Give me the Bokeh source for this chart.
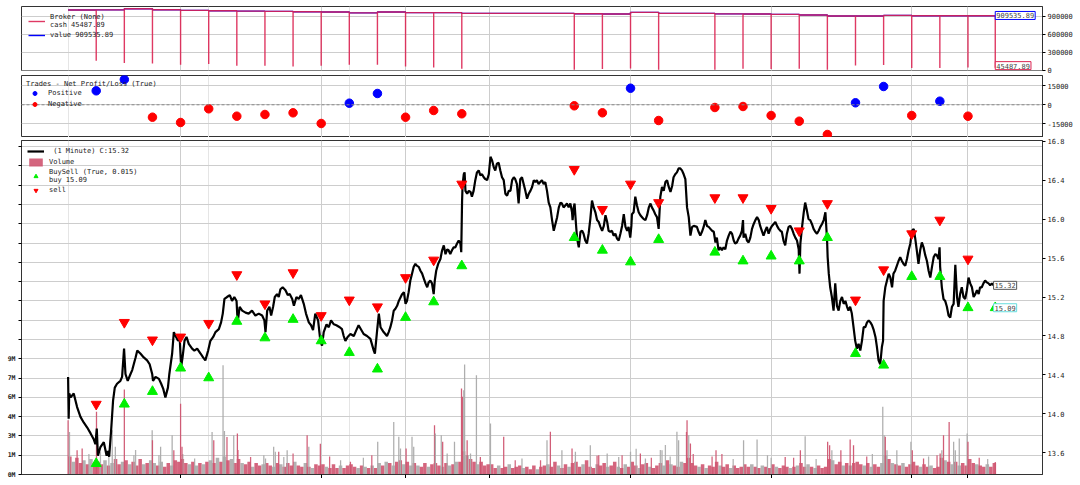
from bokeh.plotting import figure
from bokeh.models import (Range1d, LinearAxis, FixedTicker, Grid, Legend, LegendItem,
                          Label, Span, PrintfTickFormatter)
from bokeh.layouts import column
from bokeh.embed import file_html
from bokeh.resources import INLINE

FONT = "DejaVu Sans Mono"
FS = "7px"

# ---------------- data ----------------
trade_days = [1, 2, 3, 4, 5, 6, 7, 8, 9, 10, 11, 12, 13, 14, 18, 19, 20, 21,
              23, 24, 25, 26, 27, 28, 29, 30, 31, 32]
trade_pnl = [11050, 19975, -9790, -13975, -3160, -9000, -7660, -6320, -14760, 1260,
             8920, -9790, -4500, -7100, -790, -6320, 13100, -12400,
             -2130, -1340, -8450, -12950, -23450, 1580, 14450, -8450, 2840, -9000]
sell_price = [14.10, 14.94, 14.76, 14.79, 14.93, 15.43, 15.13, 15.45, 15.01, 15.17,
              15.10, 15.40, 15.58, 16.36, 16.51, 16.10, 16.36, 16.17,
              16.22, 16.22, 16.11, 15.88, 16.16, 15.17, 15.48, 15.85, 15.99, 15.59]
buy_price = [13.49, 14.10, 14.23, 14.47, 14.37, 14.95, 14.78, 14.97, 14.75, 14.63,
             14.46, 14.99, 15.15, 15.52, 15.81, 15.68, 15.56, 15.79,
             15.66, 15.57, 15.62, 15.57, 15.81, 14.62, 14.50, 15.41, 15.41, 15.09]
cash_low = [158800, 121000, 114600, 93300, 104700, 77000, 77000, 65500, 77000, 93300,
            93300, 65500, 49000, 27800, 11500, 23000, 32700, 11500,
            11500, 27800, 23000, 27800, 11500, 81800, 88400, 39000, 39000, 49000]
value_after = [1002000, 1021000, 1005000, 993500, 988600, 982000, 977000, 972000, 965700, 952000,
               965700, 956000, 956000, 944000, 939000, 933000, 960700, 944000,
               936000, 933000, 928000, 916500, 900000, 900000, 911600, 906000, 906000, 906000]
start_value = 1000000
final_day = 32.97
final_cash = 45487.89
final_value = 909535.89
last_buy = 15.09
last_close = 15.32

price_day = [
    0.00, 0.02, 0.04, 0.09, 0.20, 0.26, 0.32, 0.44, 0.56, 0.68, 0.80, 0.91, 0.97, 1.02, 1.06,
    1.15, 1.27, 1.37, 1.41, 1.46, 1.53, 1.60, 1.66, 1.74, 1.86, 1.92, 1.99, 2.04, 2.12, 2.22,
    2.28, 2.40, 2.46, 2.57, 2.69, 2.81, 2.90, 2.99, 3.02, 3.11, 3.23, 3.31, 3.38, 3.46, 3.55,
    3.60, 3.70, 3.76, 3.84, 3.91, 3.97, 4.02, 4.07, 4.14, 4.21, 4.29, 4.41, 4.49, 4.59, 4.71,
    4.80, 4.88, 4.98, 5.06, 5.16, 5.24, 5.36, 5.44, 5.50, 5.56, 5.65, 5.75, 5.83, 5.91, 5.99,
    6.03, 6.10, 6.19, 6.31, 6.42, 6.54, 6.66, 6.78, 6.90, 6.98, 7.02, 7.08, 7.16, 7.22, 7.29,
    7.35, 7.43, 7.49, 7.55, 7.63, 7.73, 7.81, 7.88, 7.97, 8.03, 8.12, 8.20, 8.28, 8.38, 8.46,
    8.56, 8.64, 8.71, 8.79, 8.89, 8.97, 9.03, 9.09, 9.19, 9.27, 9.35, 9.45, 9.54, 9.66, 9.74,
    9.80, 9.86, 9.94, 10.04, 10.16, 10.25, 10.33, 10.51, 10.63, 10.75, 10.87, 10.91, 10.99, 11.05, 11.11,
    11.22, 11.34, 11.40, 11.46, 11.52, 11.58, 11.64, 11.70, 11.76, 11.88, 11.94, 12.00, 12.05, 12.11, 12.17,
    12.23, 12.29, 12.35, 12.41, 12.47, 12.53, 12.59, 12.65, 12.71, 12.77, 12.82, 12.88, 12.94, 13.00, 13.04,
    13.09, 13.16, 13.24, 13.30, 13.36, 13.42, 13.48, 13.53, 13.59, 13.65, 13.71, 13.77, 13.83, 13.89, 13.95,
    13.98, 14.01, 14.03, 14.07, 14.10, 14.13, 14.19, 14.25, 14.31, 14.36, 14.42, 14.48, 14.54, 14.60, 14.66,
    14.72, 14.78, 14.84, 14.90, 14.96, 15.02, 15.08, 15.14, 15.19, 15.25, 15.31, 15.37, 15.43, 15.49, 15.55,
    15.61, 15.67, 15.73, 15.79, 15.85, 15.90, 15.96, 16.02, 16.08, 16.14, 16.20, 16.26, 16.32, 16.38, 16.44,
    16.50, 16.56, 16.62, 16.67, 16.73, 16.79, 16.85, 16.91, 16.97, 17.03, 17.09, 17.15, 17.21, 17.27, 17.33,
    17.39, 17.45, 17.51, 17.56, 17.62, 17.68, 17.74, 17.80, 17.86, 17.92, 17.94, 17.98, 18.01, 18.06, 18.10,
    18.16, 18.22, 18.28, 18.33, 18.39, 18.45, 18.51, 18.57, 18.63, 18.69, 18.75, 18.81, 18.87, 18.93, 18.99,
    19.05, 19.11, 19.17, 19.22, 19.28, 19.34, 19.40, 19.46, 19.52, 19.58, 19.64, 19.70, 19.76, 19.82, 19.88,
    19.93, 19.99, 20.03, 20.05, 20.11, 20.17, 20.23, 20.29, 20.35, 20.41, 20.47, 20.53, 20.59, 20.65, 20.71,
    20.76, 20.82, 20.88, 20.94, 21.00, 21.04, 21.06, 21.12, 21.18, 21.24, 21.30, 21.36, 21.42, 21.48, 21.53,
    21.59, 21.65, 21.71, 21.77, 21.83, 21.89, 21.95, 22.01, 22.07, 22.13, 22.19, 22.25, 22.36, 22.42, 22.48,
    22.54, 22.60, 22.66, 22.72, 22.78, 22.84, 22.90, 22.96, 23.02, 23.07, 23.13, 23.19, 23.25, 23.31, 23.37,
    23.43, 23.49, 23.55, 23.61, 23.67, 23.72, 23.78, 23.84, 23.90, 23.96, 24.00, 24.02, 24.08, 24.14, 24.20,
    24.26, 24.32, 24.38, 24.44, 24.50, 24.56, 24.61, 24.67, 24.73, 24.79, 24.85, 24.91, 24.97, 25.03, 25.09,
    25.15, 25.21, 25.27, 25.33, 25.38, 25.44, 25.50, 25.56, 25.62, 25.68, 25.74, 25.80, 25.86, 25.92, 25.98,
    26.01, 26.04, 26.10, 26.16, 26.21, 26.27, 26.33, 26.39, 26.45, 26.51, 26.57, 26.63, 26.69, 26.75, 26.81,
    26.87, 26.93, 26.99, 27.01, 27.05, 27.10, 27.16, 27.22, 27.28, 27.34, 27.40, 27.46, 27.52, 27.58, 27.64,
    27.70, 27.75, 27.81, 27.87, 27.93, 27.99, 28.05, 28.11, 28.17, 28.23, 28.29, 28.35, 28.41, 28.47, 28.53,
    28.59, 28.65, 28.71, 28.76, 28.82, 28.88, 28.94, 28.98, 29.00, 29.06, 29.12, 29.18, 29.24, 29.30, 29.35,
    29.41, 29.47, 29.53, 29.59, 29.65, 29.71, 29.77, 29.83, 29.89, 29.95, 30.01, 30.07, 30.12, 30.18, 30.24,
    30.30, 30.36, 30.42, 30.48, 30.54, 30.60, 30.66, 30.72, 30.78, 30.84, 30.89, 30.95, 30.99, 31.01, 31.07,
    31.13, 31.19, 31.25, 31.31, 31.37, 31.43, 31.49, 31.55, 31.61, 31.66, 31.72, 31.78, 31.84, 31.90, 31.96,
    32.02, 32.08, 32.14, 32.20, 32.26, 32.32, 32.38, 32.43, 32.49, 32.55, 32.61, 32.67, 32.73, 32.79, 32.85,
    32.91]
price_close = [
    14.38, 13.95, 14.21, 14.17, 14.21, 14.14, 14.07, 13.97, 13.91, 13.86, 13.80, 13.74, 13.69, 13.85, 13.57,
    13.66, 13.71, 13.57, 13.62, 13.56, 13.83, 14.14, 14.27, 14.31, 14.34, 14.38, 14.67, 14.41, 14.34, 14.41,
    14.45, 14.58, 14.65, 14.62, 14.58, 14.55, 14.51, 14.41, 14.34, 14.38, 14.36, 14.31, 14.26, 14.17, 14.27,
    14.41, 14.62, 14.84, 14.79, 14.75, 14.77, 14.48, 14.58, 14.75, 14.79, 14.72, 14.67, 14.65, 14.67, 14.62,
    14.58, 14.55, 14.65, 14.75, 14.79, 14.84, 14.87, 14.94, 15.03, 15.18, 15.20, 15.22, 15.16, 15.20, 15.16,
    14.94, 15.10, 15.06, 15.04, 15.03, 15.06, 15.01, 15.03, 15.01, 14.96, 14.84, 15.06, 15.10, 15.01, 15.10,
    15.20, 15.23, 15.20, 15.28, 15.30, 15.27, 15.22, 15.23, 15.18, 15.11, 15.20, 15.18, 15.22, 15.13, 15.03,
    14.94, 14.91, 14.86, 15.03, 14.96, 14.75, 14.70, 14.84, 14.92, 14.89, 14.96, 14.92, 14.91, 14.89, 14.87,
    14.80, 14.75, 14.79, 14.82, 14.80, 14.86, 14.91, 14.82, 14.80, 14.77, 14.65, 14.62, 14.86, 15.03, 14.89,
    14.84, 14.80, 14.84, 14.89, 14.96, 15.06, 15.08, 15.11, 15.16, 15.23, 15.25, 15.13, 15.16, 15.25, 15.37,
    15.44, 15.51, 15.54, 15.52, 15.51, 15.47, 15.44, 15.39, 15.34, 15.30, 15.35, 15.37, 15.34, 15.23, 15.37,
    15.47, 15.54, 15.59, 15.68, 15.73, 15.64, 15.69, 15.68, 15.64, 15.68, 15.71, 15.71, 15.75, 15.78, 15.75,
    15.66, 16.19, 16.36, 16.46, 16.48, 16.29, 16.26, 16.29, 16.28, 16.23, 16.29, 16.40, 16.48, 16.50, 16.45,
    16.46, 16.43, 16.41, 16.40, 16.46, 16.64, 16.60, 16.53, 16.50, 16.57, 16.58, 16.50, 16.43, 16.40, 16.26,
    16.24, 16.29, 16.29, 16.40, 16.43, 16.41, 16.36, 16.16, 16.41, 16.43, 16.36, 16.29, 16.21, 16.26, 16.29,
    16.33, 16.40, 16.38, 16.40, 16.36, 16.38, 16.40, 16.36, 16.38, 16.29, 16.17, 16.12, 15.99, 15.88, 15.95,
    16.02, 16.12, 16.17, 16.16, 16.12, 16.14, 16.16, 16.12, 16.16, 16.07, 15.99, 16.12, 16.16, 15.95, 15.80,
    15.71, 15.87, 15.88, 15.85, 15.78, 15.75, 15.85, 16.00, 16.19, 16.12, 16.07, 15.99, 15.97, 15.92, 15.88,
    15.93, 16.04, 15.97, 15.88, 15.87, 15.88, 15.83, 15.85, 15.80, 15.78, 15.85, 15.93, 16.05, 15.92, 15.88,
    15.92, 15.81, 15.93, 16.05, 16.07, 16.23, 16.14, 16.07, 16.04, 16.02, 16.00, 15.99, 16.04, 16.12, 16.16,
    16.12, 16.09, 16.05, 16.02, 15.90, 16.12, 16.23, 16.33, 16.29, 16.38, 16.40, 16.33, 16.28, 16.34, 16.43,
    16.46, 16.48, 16.52, 16.52, 16.50, 16.46, 16.41, 16.12, 16.02, 15.83, 15.92, 15.93, 15.92, 15.87, 15.83,
    15.87, 15.92, 15.99, 15.93, 15.92, 15.90, 15.88, 15.87, 15.76, 15.81, 15.68, 15.71, 15.68, 15.71, 15.69,
    15.78, 15.83, 15.87, 15.85, 15.78, 15.75, 15.76, 15.80, 15.83, 15.88, 15.99, 15.81, 15.85, 15.78, 15.76,
    15.81, 15.90, 15.95, 15.99, 16.02, 15.99, 15.93, 15.88, 15.83, 15.88, 15.92, 15.85, 15.90, 15.93, 15.95,
    15.97, 15.93, 15.90, 15.88, 15.87, 15.78, 15.73, 15.85, 15.92, 15.93, 15.90, 15.85, 15.81, 15.78, 15.69,
    15.44, 15.75, 15.92, 16.07, 16.17, 16.09, 16.00, 15.99, 15.95, 15.90, 15.87, 15.85, 15.88, 15.92, 15.95,
    15.99, 16.07, 15.78, 15.61, 15.44, 15.30, 15.20, 15.06, 15.34, 15.11, 15.06, 15.16, 15.20, 15.13, 15.16,
    15.10, 15.06, 15.10, 15.03, 14.89, 14.75, 14.67, 14.72, 14.65, 14.75, 14.89, 14.89, 14.94, 14.96, 14.94,
    14.91, 14.86, 14.79, 14.69, 14.55, 14.51, 14.69, 14.75, 15.16, 15.30, 15.37, 15.44, 15.40, 15.30, 15.44,
    15.47, 15.52, 15.57, 15.61, 15.57, 15.54, 15.52, 15.59, 15.68, 15.75, 15.88, 15.90, 15.81, 15.68, 15.54,
    15.68, 15.76, 15.71, 15.63, 15.57, 15.47, 15.40, 15.51, 15.61, 15.64, 15.63, 15.59, 15.71, 15.51, 15.30,
    15.18, 15.16, 15.10, 15.01, 14.99, 15.10, 15.13, 15.53, 15.20, 15.10, 15.23, 15.30, 15.20, 15.18, 15.27,
    15.40, 15.34, 15.30, 15.20, 15.23, 15.27, 15.23, 15.30, 15.30, 15.34, 15.37, 15.35, 15.34, 15.32, 15.34,
    15.32]

# volume (millions): dense base, one value per 1/8 day, plus taller single bars
vol_base = [
    [1.4, 1.0, 1.3, 0.9, 1.1, 0.8, 1.2, 0.9], [1.0, 0.8, 1.1, 0.7, 0.9, 1.2, 0.8, 1.0],
    [1.1, 0.8, 1.0, 0.7, 1.2, 0.8, 0.9, 1.1], [0.9, 0.7, 1.0, 0.6, 0.9, 0.7, 1.1, 1.0],
    [1.2, 0.9, 0.8, 1.0, 0.7, 0.9, 0.8, 1.0], [1.1, 0.9, 1.3, 1.0, 1.4, 1.1, 1.2, 0.9],
    [1.2, 0.9, 0.8, 1.0, 0.6, 0.9, 0.7, 0.8], [0.9, 0.7, 0.6, 0.9, 0.8, 0.6, 0.9, 0.7],
    [1.0, 0.7, 0.6, 0.9, 0.6, 0.5, 0.8, 0.7], [0.8, 0.6, 0.5, 0.8, 0.5, 0.7, 0.5, 0.7],
    [0.8, 0.6, 0.5, 0.7, 0.6, 0.5, 0.7, 0.5], [0.9, 0.7, 1.0, 0.9, 0.7, 1.0, 1.1, 0.8],
    [1.0, 0.7, 0.9, 0.7, 0.6, 0.9, 0.6, 0.8], [0.9, 0.7, 0.6, 0.9, 0.7, 0.8, 1.0, 1.0],
    [1.8, 1.5, 1.2, 1.0, 0.8, 1.0, 0.7, 0.8], [0.8, 0.5, 0.7, 0.5, 0.6, 0.8, 0.5, 0.6],
    [0.7, 0.5, 0.6, 0.4, 0.7, 0.4, 0.6, 0.7], [0.8, 0.6, 1.0, 0.7, 0.5, 0.8, 0.6, 0.9],
    [1.0, 0.6, 0.8, 1.1, 0.6, 0.5, 0.8, 0.7], [0.9, 0.6, 0.7, 1.0, 0.6, 0.5, 0.8, 0.6],
    [1.0, 0.7, 0.5, 0.8, 0.9, 0.6, 0.5, 0.7], [0.9, 0.7, 1.1, 0.8, 0.7, 0.6, 1.0, 0.9],
    [1.3, 0.9, 0.7, 0.6, 0.8, 0.5, 0.7, 0.6], [1.0, 0.7, 0.6, 0.8, 0.5, 0.7, 0.5, 0.6],
    [0.8, 0.6, 0.8, 0.6, 0.5, 0.7, 0.6, 0.5], [0.8, 0.6, 0.5, 0.7, 0.6, 0.5, 0.6, 0.7],
    [0.9, 0.6, 0.8, 0.6, 0.5, 0.7, 0.5, 0.6], [1.2, 1.1, 0.8, 1.0, 0.7, 0.9, 0.7, 0.9],
    [1.0, 0.8, 0.7, 0.9, 0.6, 0.8, 0.6, 0.9], [1.5, 1.2, 0.9, 0.8, 0.7, 0.9, 0.6, 0.8],
    [1.0, 0.7, 0.6, 0.8, 0.6, 0.7, 0.5, 0.6], [1.3, 1.1, 1.0, 0.8, 1.0, 0.7, 0.9, 0.7],
    [1.2, 0.9, 0.8, 0.7, 0.6, 0.8, 0.6, 0.9]]
vol_base_dir = [
    "dgddgdgd", "ddgdgddg", "dgdddgdg", "gdgddgdd", "ddgdgdgd", "gdgdgdgd", "dgddgddg",
    "ddgdgddd", "gddgdgdd", "dgdddgdd", "ddgdgdgd", "gdgdgddg", "dgdgddgd", "ddgdgdgd",
    "dgddgddd", "ddgddgdd", "dgdddgdd", "gddgddgd", "ddgdddgd", "dgddgdgd", "ddgddgdd",
    "dgdgddgd", "dddgdgdd", "dgddgddd", "ddgddgdd", "dgdddgdg", "ddgdgddd", "dgddgdgd",
    "ddgdgddg", "gdgddgdd", "ddgddgdd", "dgdgdgdd", "ddgddgdd"]
spike_day = [0.00, 0.05, 0.32, 0.50, 1.01, 1.57, 1.68, 2.00, 2.34, 2.99, 3.00, 3.29, 3.70, 3.76,
             4.00, 4.05, 5.12, 5.18, 5.51, 5.56, 5.65, 5.89, 6.02, 6.96, 7.31, 7.49, 7.79, 8.50,
             8.56, 8.97, 9.69, 10.04, 11.01, 11.58, 11.76, 11.82, 12.02, 12.23, 12.29, 13.03, 13.06,
             13.27, 13.32, 13.48, 13.74, 13.99, 14.02, 14.07, 14.10, 14.19, 14.31, 14.52, 14.66,
             15.02, 15.49, 16.14, 17.03, 17.15, 17.56, 17.92, 18.04, 18.57, 18.87, 19.17, 19.58,
             20.00, 20.35, 21.12, 21.65, 21.71, 22.01, 22.07, 22.13, 23.04, 24.02, 24.50, 24.87,
             25.50, 26.04, 26.21, 27.01, 27.08, 27.16, 27.48, 27.81, 27.93, 28.97, 29.02, 29.06,
             29.12, 29.47, 29.97, 30.02, 30.42, 31.01, 31.07, 31.13, 31.33, 31.49, 31.55, 31.69,
             31.97, 32.00, 32.97]
spike_vol = [4.22, 3.31, 1.89, 2.02, 4.87, 3.44, 2.15, 6.60, 1.50, 3.44, 2.66, 2.15, 3.06, 1.89,
             5.50, 2.15, 3.31, 2.66, 8.49, 3.39, 2.92, 3.06, 3.18, 1.50, 2.15, 1.76, 1.89, 3.06,
             2.15, 2.40, 1.10, 1.00, 2.54, 4.09, 2.93, 2.02, 2.02, 2.93, 2.15, 3.83, 3.19,
             3.06, 2.54, 1.63, 2.54, 6.68, 6.04, 6.55, 8.55, 2.67, 1.63, 7.72, 1.37,
             3.96, 2.93, 1.24, 2.67, 3.32, 1.89, 2.02, 1.76, 2.28, 1.50, 1.63, 1.37,
             1.76, 1.63, 1.89, 3.32, 2.67, 4.22, 3.06, 2.41, 1.89, 2.67, 2.72, 1.50,
             1.37, 1.89, 2.98, 2.54, 2.28, 1.89, 1.89, 2.72, 2.28, 5.26, 3.06, 2.93,
             1.89, 1.89, 2.54, 1.89, 1.24, 1.63, 1.89, 3.06, 4.09, 2.54, 1.89, 2.80,
             3.19, 2.54, 0.98]
spike_dir = list("dgdddggdgg" "dggdddgdgg" "dgdggdgdgd" "gdggggdggd" "ggdggddggd"
                 "ggdgdggdgd" "ggdgggdggg" "dgddgggddg" "ddgdddggdg" "ggdddgddgg" "ggdd")
mid_day = [0.74, 1.15, 1.45, 2.40, 3.23, 4.08, 4.50, 6.04, 6.49, 7.02, 7.37, 7.67, 8.00, 9.30,
           10.50, 10.80, 15.90, 16.80, 18.81, 19.70, 20.20, 20.53, 20.74, 21.06, 21.24, 21.41,
           21.99, 22.23, 22.90, 23.25, 23.65, 25.00, 25.80, 26.60, 28.40, 28.60, 30.60, 30.90,
           32.40, 32.70]
mid_vol = [1.60, 1.76, 1.90, 1.90, 1.50, 1.60, 1.24, 1.90, 1.37, 1.24, 1.76, 1.37, 1.63, 1.40,
           1.30, 1.50, 1.10, 1.10, 1.45, 1.50, 2.00, 1.24, 1.30, 1.90, 2.30, 1.40,
           3.30, 1.60, 1.40, 1.60, 1.20, 1.30, 1.30, 1.20, 1.40, 1.60, 1.40, 1.50,
           1.30, 1.20]
mid_dir = list("gggggggddg" "ggddgddddd" "ggdgggdddd" "ggdgdggddg")

# ---------------- shared ----------------
X0, X1 = -1.657, 34.65
x_ticks = [4, 9, 12, 15, 20, 25, 30, 32]
GRID = "#cdcdcd"
CASH_C = "#dc2452"
UP_C, DOWN_C = "#aaaaaa", "#cf5470"


def base_fig(fh, ylo, yhi, yticks, fmt, top=0, bottom=0):
    p = figure(frame_width=1021, frame_height=fh, x_range=Range1d(X0, X1),
               y_range=Range1d(ylo, yhi), output_backend="svg", toolbar_location=None,
               x_axis_location=None, y_axis_location="right",
               min_border_left=21, min_border_right=0, min_border_top=top,
               min_border_bottom=bottom,
               outline_line_color="#333333", background_fill_color="white")
    ax = p.yaxis[0]
    ax.ticker = FixedTicker(ticks=yticks)
    ax.formatter = PrintfTickFormatter(format=fmt)
    ax.major_label_text_font = FONT
    ax.major_label_text_font_size = FS
    ax.major_label_text_color = "#222222"
    ax.major_label_standoff = 2
    ax.major_tick_out = 3
    ax.major_tick_in = 0
    ax.minor_tick_line_color = None
    ax.axis_line_color = "#333333"
    p.ygrid.grid_line_color = GRID
    p.ygrid.ticker = FixedTicker(ticks=yticks)
    p.add_layout(Grid(dimension=0, ticker=FixedTicker(ticks=x_ticks), grid_line_color=GRID))
    return p


def style_legend(leg, pad):
    leg.location = "top_left"
    leg.border_line_alpha = 0
    leg.background_fill_alpha = 0
    leg.label_text_font = FONT
    leg.label_text_font_size = FS
    leg.label_text_color = "#222222"
    leg.label_height = 8
    leg.glyph_height = 10
    leg.glyph_width = 17
    leg.label_standoff = 5
    leg.spacing = 1
    leg.padding = pad
    leg.margin = 2


# ---------------- broker panel ----------------
pb = base_fig(64, -2000, 1058000, [0, 300000, 600000, 900000], "%d", top=6, bottom=5)
cx, cy, vx, vy = [0], [start_value], [0], [start_value]
prev = start_value
for d, low, after in zip(trade_days, cash_low, value_after):
    cx += [d, d, d]
    cy += [prev, low, after]
    vx += [d, d]
    vy += [prev, after]
    prev = after
cx += [final_day, final_day]
cy += [prev, final_cash]
vx += [final_day, final_day]
vy += [prev, final_value]
r_val = pb.line(vx, vy, line_color="blue", line_width=1.4)
r_cash = pb.line(cx, cy, line_color=CASH_C, line_width=1.4, line_alpha=0.9)
pb.add_layout(Label(x=final_day, y=final_value, text="909535.89", text_font=FONT,
                    text_font_size=FS, text_baseline="middle", text_align="left",
                    border_line_color="blue", background_fill_color="white", padding=1))
pb.add_layout(Label(x=final_day, y=final_cash, text="45487.89", text_font=FONT,
                    text_font_size=FS, text_baseline="middle", text_align="left",
                    border_line_color=CASH_C, background_fill_color="white", padding=1,
                    y_offset=2))
lb = Legend(items=[LegendItem(label="Broker (None)\ncash 45487.89", renderers=[r_cash]),
                   LegendItem(label="value 909535.89", renderers=[r_val])])
style_legend(lb, 5)
pb.add_layout(lb)

# ---------------- trades panel ----------------
pt = base_fig(62, -25820, 23130, [-15000, 0, 15000], "%d")
pt.add_layout(Span(location=0, dimension="width", line_color="#888888", line_dash="3 2", line_width=1))
pos_d = [d for d, v in zip(trade_days, trade_pnl) if v >= 0]
pos_v = [v for v in trade_pnl if v >= 0]
neg_d = [d for d, v in zip(trade_days, trade_pnl) if v < 0]
neg_v = [v for v in trade_pnl if v < 0]
r_pos = pt.scatter(pos_d, pos_v, size=8.5, color="blue")
r_neg = pt.scatter(neg_d, neg_v, size=8.5, color="red")
lt = Legend(items=[LegendItem(label="Positive", renderers=[r_pos]),
                   LegendItem(label="Negative", renderers=[r_neg])],
            title="Trades - Net Profit/Loss (True)")
style_legend(lt, 3)
lt.title_text_font = FONT
lt.title_text_font_size = FS
lt.title_text_font_style = "normal"
lt.title_text_color = "#222222"
lt.title_standoff = 0
pt.add_layout(lt)

# ---------------- main panel ----------------
pticks = [13.6, 14.0, 14.4, 14.8, 15.2, 15.6, 16.0, 16.4, 16.8]
pm = base_fig(334, 13.378, 16.807, pticks, "%.1f", top=3)
pm.ygrid.visible = False
pm.extra_y_ranges = {"vol": Range1d(0, 25.97e6)}
vticks = [i * 1500000 for i in range(18)]
shown = {0: "0M", 1500000: "1M", 3000000: "3M", 4500000: "4M", 6000000: "6M",
         7500000: "7M", 9000000: "9M"}
vax = LinearAxis(y_range_name="vol", ticker=FixedTicker(ticks=vticks))
vax.major_label_overrides = {t: shown.get(t, "") for t in vticks}
vax.major_label_text_font = FONT
vax.major_label_text_font_size = "6.5px"
vax.major_label_text_font_style = "bold"
vax.major_label_text_color = "#222222"
vax.major_label_standoff = 3
vax.major_tick_out = 3
vax.major_tick_in = 0
vax.minor_tick_line_color = None
vax.axis_line_color = "#333333"
pm.add_layout(vax, "left")
pm.add_layout(Grid(dimension=1, ticker=FixedTicker(ticks=vticks), y_range_name="vol",
                   grid_line_color=GRID, grid_line_width=1.2))
xax = LinearAxis(ticker=FixedTicker(ticks=x_ticks), major_label_text_font_size="0px",
                 major_label_standoff=0, major_tick_out=4, major_tick_in=0,
                 minor_tick_line_color=None, axis_line_color="#333333")
xax.major_label_overrides = {t: "" for t in x_ticks}
pm.add_layout(xax, "below")

bx, bt, bc = [], [], []
for d, (row, dirs) in enumerate(zip(vol_base, vol_base_dir)):
    for k, (v, c) in enumerate(zip(row, dirs)):
        bx.append(d + (k + 0.5) * 0.125)
        bt.append(v * 1e6)
        bc.append(DOWN_C if c == "d" else UP_C)
r_vol = pm.vbar(x=bx, top=bt, width=0.125, bottom=0, fill_color=bc, line_color=None,
                fill_alpha=0.9, y_range_name="vol")
pm.vbar(x=mid_day, top=[v * 1e6 for v in mid_vol], width=0.045, bottom=0,
        fill_color=[DOWN_C if c == "d" else UP_C for c in mid_dir], line_color=None,
        fill_alpha=0.9, y_range_name="vol")
pm.vbar(x=spike_day, top=[v * 1e6 for v in spike_vol], width=0.045, bottom=0,
        fill_color=[DOWN_C if c == "d" else UP_C for c in spike_dir], line_color=None,
        fill_alpha=0.95, y_range_name="vol")

r_price = pm.line(price_day, price_close, line_color="black", line_width=2.2)
buy_days = trade_days + [final_day]
r_buy = pm.scatter(buy_days, buy_price + [last_buy], marker="triangle", size=10,
                   color="#00f000")
r_sell = pm.scatter(trade_days, sell_price, marker="inverted_triangle", size=10,
                    color="#ff0000")
pm.add_layout(Label(x=price_day[-1], y=last_close, text="15.32", text_font=FONT,
                    text_font_size=FS, text_baseline="middle", text_align="left",
                    border_line_color="#555555", background_fill_color="white", padding=1))
pm.add_layout(Label(x=price_day[-1], y=last_buy, text="15.09", text_font=FONT,
                    text_font_size=FS, text_baseline="middle", text_align="left",
                    border_line_color="#66dddd", background_fill_color="white", padding=1))
lm = Legend(items=[LegendItem(label=" (1 Minute) C:15.32", renderers=[r_price]),
                   LegendItem(label="Volume", renderers=[r_vol]),
                   LegendItem(label="BuySell (True, 0.015)\nbuy 15.09", renderers=[r_buy]),
                   LegendItem(label="sell", renderers=[r_sell])])
style_legend(lm, 4)
pm.add_layout(lm)

layout = column(pb, pt, pm, spacing=0)
open("out.html", "w").write(file_html(layout, INLINE))
